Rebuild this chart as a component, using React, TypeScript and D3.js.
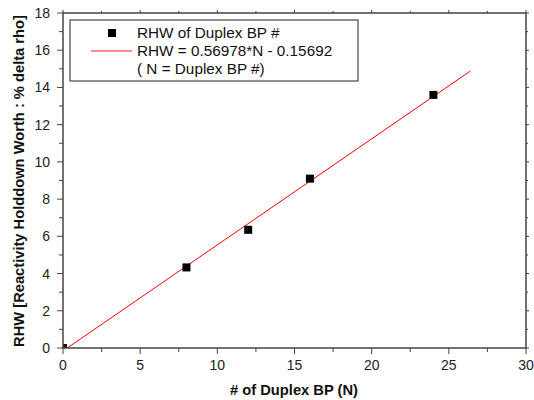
import React from "react";
import * as d3 from "d3";

const nValues = [0, 8, 12, 16, 24];
const rhwValues = [0, 4.33, 6.35, 9.1, 13.6];
const fitSlope = 0.56978;
const fitIntercept = -0.15692;
const fitRange = [0, 26.4];
const xTicks = [0, 5, 10, 15, 20, 25, 30];
const yTicks = [0, 2, 4, 6, 8, 10, 12, 14, 16, 18];
const legendLabels = ["RHW of Duplex BP #", "RHW = 0.56978*N - 0.15692", "( N = Duplex BP #)"];
const xTitle = "# of Duplex BP (N)";
const yTitle = "RHW [Reactivity Holddown Worth : % delta rho]";

const W = 534, H = 400;
const L = 63, R = 526, T = 13, B = 348;

export default function App() {
  const x = d3.scaleLinear().domain([0, 30]).range([L, R]);
  const y = d3.scaleLinear().domain([0, 18]).range([B, T]);
  const xMinor = d3.range(0, 30.01, 2.5).filter((v) => v % 5 !== 0);
  const yMinor = d3.range(1, 18, 2);
  const fitLine = d3.line<number>().x((n) => x(n)).y((n) => y(fitSlope * n + fitIntercept));
  const axisColor = "#444";
  const font = "'Liberation Sans', Arial, sans-serif";
  const ms = 8;
  return (
    <svg width={W} height={H} style={{ position: "absolute", left: 0, top: 0, background: "#fff" }} fontFamily={font}>
      <defs>
        <clipPath id="plot">
          <rect x={L} y={T} width={R - L} height={B - T} />
        </clipPath>
      </defs>
      {/* fit line */}
      <path d={fitLine(fitRange) || ""} stroke="#f00" strokeWidth={1} fill="none" clipPath="url(#plot)" />
      {/* points */}
      <g clipPath="url(#plot)">
        {nValues.map((n, i) => (
          <rect key={i} x={x(n) - ms / 2} y={y(rhwValues[i]) - ms / 2} width={ms} height={ms} fill="#000" />
        ))}
      </g>
      {/* frame */}
      <rect x={L} y={T} width={R - L} height={B - T} fill="none" stroke={axisColor} strokeWidth={1.5} />
      {/* x ticks bottom & top */}
      {xTicks.map((t) => (
        <g key={"xt" + t}>
          <line x1={x(t)} x2={x(t)} y1={B} y2={B + 6} stroke={axisColor} strokeWidth={1} />
          <line x1={x(t)} x2={x(t)} y1={T} y2={T - 3} stroke={axisColor} strokeWidth={1} />
          <text x={x(t)} y={B + 22} textAnchor="middle" fontSize={14} fill="#222">{t}</text>
        </g>
      ))}
      {xMinor.map((t) => (
        <g key={"xm" + t}>
          <line x1={x(t)} x2={x(t)} y1={B} y2={B + 4} stroke={axisColor} strokeWidth={1} />
          <line x1={x(t)} x2={x(t)} y1={T} y2={T - 2} stroke={axisColor} strokeWidth={1} />
        </g>
      ))}
      {/* y ticks left & right */}
      {yTicks.map((t) => (
        <g key={"yt" + t}>
          <line x1={L} x2={L - 6} y1={y(t)} y2={y(t)} stroke={axisColor} strokeWidth={1} />
          <line x1={R} x2={R + 3} y1={y(t)} y2={y(t)} stroke={axisColor} strokeWidth={1} />
          <text x={L - 13} y={y(t) + 5} textAnchor="end" fontSize={14} fill="#222">{t}</text>
        </g>
      ))}
      {yMinor.map((t) => (
        <g key={"ym" + t}>
          <line x1={L} x2={L - 4} y1={y(t)} y2={y(t)} stroke={axisColor} strokeWidth={1} />
          <line x1={R} x2={R + 2} y1={y(t)} y2={y(t)} stroke={axisColor} strokeWidth={1} />
        </g>
      ))}
      {/* axis titles */}
      <text x={294} y={395} textAnchor="middle" fontSize={14.7} fontWeight="bold" fill="#111">{xTitle}</text>
      <text transform={`translate(24,181) rotate(-90)`} textAnchor="middle" fontSize={14.7} fontWeight="bold" fill="#111">{yTitle}</text>
      {/* legend */}
      <rect x={70} y={20} width={288} height={61} fill="#fff" stroke="#222" strokeWidth={1} />
      <rect x={112 - ms / 2} y={33 - ms / 2} width={ms} height={ms} fill="#000" />
      <line x1={91} x2={132} y1={51} y2={51} stroke="#f66" strokeWidth={1.5} />
      {legendLabels.map((s, i) => (
        <text key={i} x={137} y={38 + i * 18} fontSize={15.3} fill="#111">{s}</text>
      ))}
    </svg>
  );
}
